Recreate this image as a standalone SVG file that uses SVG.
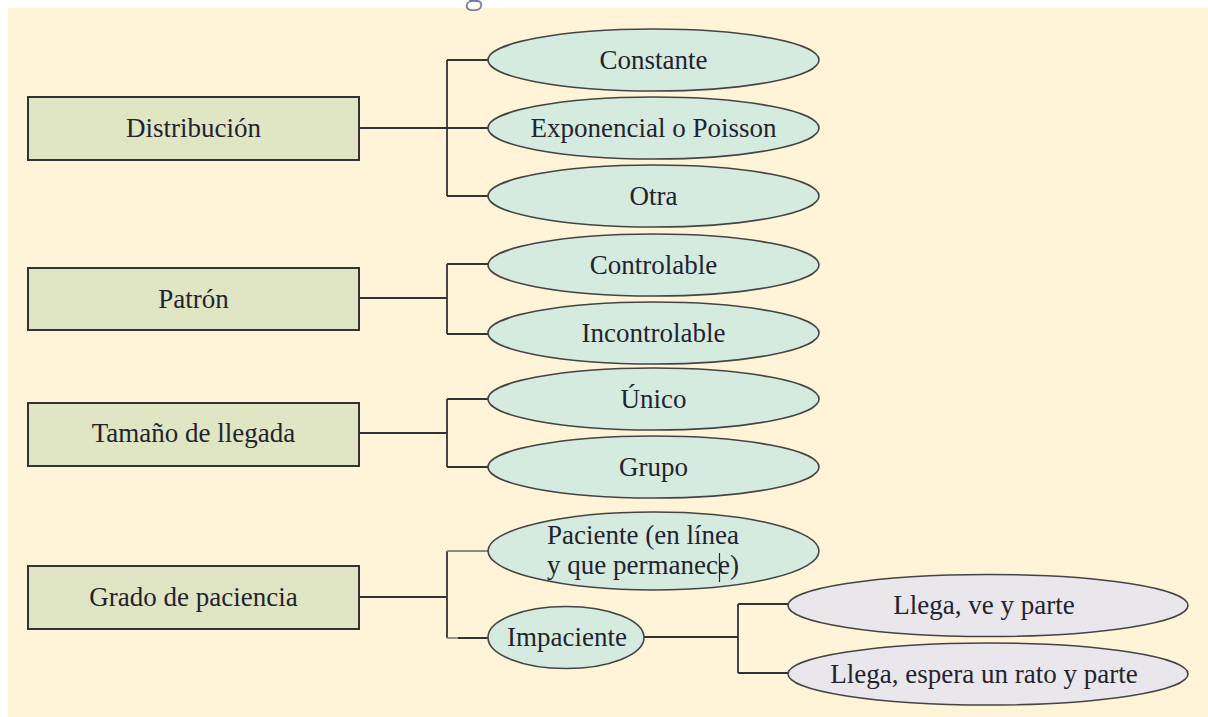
<svg xmlns="http://www.w3.org/2000/svg" width="1208" height="717" viewBox="0 0 1208 717">
<style>
.box{fill:#E0E5C3;stroke:#333;stroke-width:2}
.ell{fill:#D6EBDF;stroke:#444;stroke-width:1.6}
.ell2{fill:#E9E7EC;stroke:#444;stroke-width:1.6}
.lbl{font-family:"Liberation Serif","Times New Roman",serif;font-size:27px;fill:#23232f;text-anchor:middle}
.con{fill:none;stroke:#333;stroke-width:1.8}
</style>
<rect x="0" y="0" width="1208" height="717" fill="#FFFFFF"/>
<rect x="8" y="8" width="1200" height="709" fill="#FFF4D7"/>
<text x="474" y="3" font-family="'Open Sans',sans-serif" font-size="34" font-weight="300" fill="#6B7C9A" text-anchor="middle">g</text>

<g id="connectors">
<path class="con" d="M359,128 H488 M447,60 V196 M447,60 H488 M447,196 H488"/>
<path class="con" d="M359,298 H447 M447,264 V334 M447,264 H488 M447,334 H488"/>
<path class="con" d="M359,433 H447 M447,399 V467 M447,399 H488 M447,467 H488"/>
<path class="con" d="M359,597 H447 M447,551 V638 M458,638 H488"/>
<path class="con" d="M447,551 H488" style="stroke:#8a8a80"/>
<path class="con" d="M447,638 H458" style="stroke:#8a8a80"/>
<path class="con" d="M644,637 H738 M738,604 V673 M738,604 H788 M738,673 H788"/>
</g>

<g id="n-distribucion"><rect class="box" x="28" y="97" width="331" height="63"/><text class="lbl" x="193.5" y="137">Distribución</text></g>
<g id="n-patron"><rect class="box" x="28" y="268" width="331" height="62"/><text class="lbl" x="193.5" y="308">Patrón</text></g>
<g id="n-tamano"><rect class="box" x="28" y="403" width="331" height="63"/><text class="lbl" x="193.5" y="442">Tamaño de llegada</text></g>
<g id="n-grado"><rect class="box" x="28" y="566" width="331" height="63"/><text class="lbl" x="193.5" y="606">Grado de paciencia</text></g>

<g id="n-constante"><ellipse class="ell" cx="653.5" cy="60" rx="165.5" ry="31"/><text class="lbl" x="653.5" y="69">Constante</text></g>
<g id="n-exponencial"><ellipse class="ell" cx="653.5" cy="128" rx="165.5" ry="31"/><text class="lbl" x="653.5" y="137">Exponencial o Poisson</text></g>
<g id="n-otra"><ellipse class="ell" cx="653.5" cy="196" rx="165.5" ry="31"/><text class="lbl" x="653.5" y="205">Otra</text></g>
<g id="n-controlable"><ellipse class="ell" cx="653.5" cy="265" rx="165.5" ry="31"/><text class="lbl" x="653.5" y="274">Controlable</text></g>
<g id="n-incontrolable"><ellipse class="ell" cx="653.5" cy="333" rx="165.5" ry="31"/><text class="lbl" x="653.5" y="342">Incontrolable</text></g>
<g id="n-unico"><ellipse class="ell" cx="653.5" cy="399" rx="165.5" ry="31"/><text class="lbl" x="653.5" y="408">Único</text></g>
<g id="n-grupo"><ellipse class="ell" cx="653.5" cy="467" rx="165.5" ry="31"/><text class="lbl" x="653.5" y="476">Grupo</text></g>
<g id="n-paciente"><ellipse class="ell" cx="653.5" cy="551" rx="165.5" ry="39"/><text class="lbl" x="643" y="544">Paciente (en línea</text><text class="lbl" x="643" y="574">y que permanece)</text><line x1="719.5" y1="553" x2="719.5" y2="582" stroke="#222" stroke-width="1.2"/></g>
<g id="n-impaciente"><ellipse class="ell" cx="566" cy="637.5" rx="78" ry="31"/><text class="lbl" x="567" y="646">Impaciente</text></g>
<g id="n-llega-ve"><ellipse class="ell2" cx="988" cy="605.5" rx="200" ry="31"/><text class="lbl" x="984" y="614">Llega, ve y parte</text></g>
<g id="n-llega-espera"><ellipse class="ell2" cx="988" cy="674" rx="200" ry="31"/><text class="lbl" x="984" y="683">Llega, espera un rato y parte</text></g>
</svg>
